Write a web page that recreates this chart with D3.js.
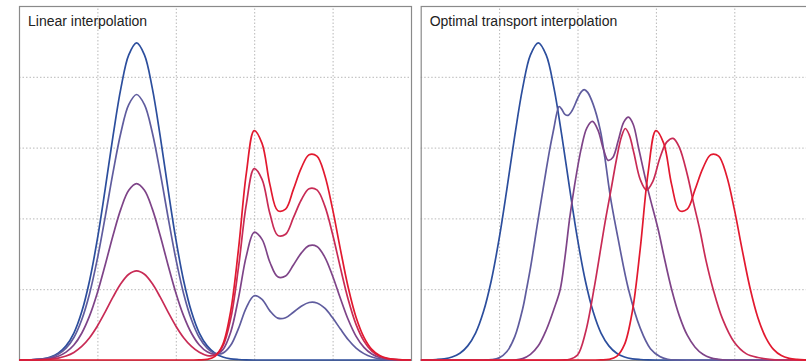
<!DOCTYPE html>
<html>
<head>
<meta charset="utf-8">
<script src="https://cdn.jsdelivr.net/npm/d3@7"></script>
<style>
  body { margin: 0; background: #fff; }
  svg { display: block; }
</style>
</head>
<body>
<div id="chart"></div>
<script>
// sample positions along x (grid units, 5 cells per panel)
var xs = [0,0.1,0.2,0.3,0.4,0.5,0.6,0.7,0.8,0.9,1,1.1,1.2,1.3,1.4,1.5,1.6,1.7,1.8,1.9,2,
  2.1,2.2,2.3,2.4,2.5,2.6,2.7,2.8,2.9,3,3.1,3.2,3.3,3.4,3.5,3.6,3.7,3.8,3.9,4,
  4.1,4.2,4.3,4.4,4.5,4.6,4.7,4.8,4.9,5];

// start density (blue, single bump)
var startDensity = [0,0.002,0.007,0.017,0.042,0.095,0.2,0.38,0.68,1.12,1.71,2.42,3.17,3.84,4.31,4.48,4.31,3.84,3.17,2.42,1.71,
  1.12,0.68,0.38,0.2,0.095,0.042,0.017,0.007,0.002,0,0,0,0,0,0,0,0,0,0,0,
  0,0,0,0,0,0,0,0,0,0];

// end density (red, two bumps)
var endDensity = [0,0,0,0,0,0,0,0,0,0,0,0,0,0,0,0,0,0,0,0,0,
  0,0,0.001,0.008,0.051,0.22,0.69,1.57,2.64,3.24,3.06,2.48,2.11,2.13,2.41,2.71,2.9,2.88,2.61,2.13,
  1.56,1.02,0.6,0.32,0.15,0.062,0.023,0.008,0.002,0];

// linear interpolation, intermediate curves
var linearQ1 = [0,0.002,0.006,0.014,0.035,0.08,0.167,0.318,0.569,0.937,1.431,2.026,2.653,3.214,3.607,3.75,3.607,3.214,2.653,2.026,1.431,
  0.937,0.569,0.318,0.169,0.094,0.097,0.207,0.446,0.741,0.907,0.857,0.694,0.591,0.596,0.675,0.759,0.812,0.806,0.731,0.596,
  0.437,0.286,0.168,0.09,0.042,0.017,0.006,0.002,0.001,0];
var linearMid = [0,0.001,0.004,0.009,0.023,0.053,0.111,0.211,0.378,0.623,0.951,1.346,1.763,2.135,2.396,2.491,2.396,2.135,1.763,1.346,0.951,
  0.623,0.378,0.212,0.115,0.081,0.146,0.393,0.878,1.471,1.805,1.704,1.381,1.175,1.186,1.342,1.509,1.615,1.604,1.454,1.186,
  0.869,0.568,0.334,0.178,0.084,0.035,0.013,0.004,0.001,0];
var linearQ3 = [0,0.001,0.002,0.005,0.012,0.027,0.056,0.107,0.191,0.315,0.481,0.68,0.891,1.079,1.211,1.259,1.211,1.079,0.891,0.68,0.481,
  0.315,0.191,0.108,0.063,0.07,0.195,0.58,1.311,2.203,2.702,2.552,2.068,1.76,1.776,2.01,2.26,2.419,2.402,2.177,1.776,
  1.301,0.851,0.5,0.267,0.125,0.052,0.019,0.007,0.002,0];

// optimal transport, intermediate curves as [x, y] points
var transportQ1 = [[0,0],[0.8,0],[0.9,0.005],[1,0.03],[1.1,0.12],[1.2,0.33],[1.3,0.72],[1.35,1],[1.4,1.3],[1.5,2],[1.6,2.68],
  [1.65,3],[1.7,3.28],[1.735,3.48],[1.765,3.58],[1.8,3.54],[1.84,3.47],[1.88,3.455],[1.93,3.52],[2,3.69],[2.05,3.79],
  [2.085,3.82],[2.13,3.78],[2.2,3.61],[2.29,3.25],[2.35,2.85],[2.42,2.3],[2.52,1.7],[2.65,1],[2.8,0.45],[2.93,0.16],
  [3.05,0.05],[3.15,0.01],[3.3,0],[5,0]];
var transportMid = [[0,0],[1.2,0],[1.3,0.02],[1.4,0.08],[1.5,0.2],[1.6,0.42],[1.7,0.72],[1.78,1],[1.84,1.45],[1.9,2],
  [1.96,2.45],[2.05,3],[2.12,3.28],[2.19,3.37],[2.26,3.25],[2.33,2.98],[2.39,2.82],[2.45,2.86],[2.52,3.1],[2.59,3.36],
  [2.65,3.43],[2.71,3.33],[2.78,2.99],[2.9,2.4],[3.03,1.84],[3.1,1.48],[3.2,1],[3.3,0.62],[3.4,0.35],[3.5,0.18],
  [3.6,0.08],[3.7,0.03],[3.8,0.01],[3.9,0],[5,0]];
var transportQ3 = [[0,0],[1.8,0],[1.9,0.01],[2,0.07],[2.1,0.38],[2.21,1],[2.3,1.6],[2.36,2],[2.43,2.42],[2.5,2.85],
  [2.56,3.15],[2.61,3.27],[2.66,3.18],[2.72,2.92],[2.8,2.55],[2.88,2.4],[2.96,2.52],[3.05,2.85],[3.14,3.08],[3.22,3.13],
  [3.3,3],[3.4,2.62],[3.48,2.22],[3.56,1.84],[3.64,1.4],[3.73,1],[3.85,0.58],[4,0.25],[4.15,0.09],[4.3,0.035],
  [4.45,0.01],[4.6,0],[5,0]];

var colors = ["#2c4e9d", "#5f5c9e", "#7e4488", "#c82b55", "#e2192f"];
var titles = ["Linear interpolation", "Optimal transport interpolation"];

function onGrid(values) {
  return xs.map(function(x, i) { return [x, values[i]]; });
}

var panelSeries = [
  [onGrid(startDensity), onGrid(linearQ1), onGrid(linearMid), onGrid(linearQ3), onGrid(endDensity)],
  [onGrid(startDensity), transportQ1, transportMid, transportQ3, onGrid(endDensity)]
];

var width = 806, height = 361;
var panelLeft = [19, 420.7],
  panelWidth = 392,
  plotTop = 6,
  plotBottom = 360;

var svg = d3.select("#chart")
.append("svg")
  .attr("width", width)
  .attr("height", height);

var y = d3.scaleLinear().domain([0, 5]).range([plotBottom, plotTop]);

panelSeries.forEach(function(series, p) {
  var x = d3.scaleLinear().domain([0, 5]).range([panelLeft[p], panelLeft[p] + panelWidth]);
  var g = svg.append("g");

  g.append("clipPath").attr("id", "clip" + p)
    .append("rect")
    .attr("x", panelLeft[p]).attr("y", plotTop)
    .attr("width", panelWidth).attr("height", plotBottom - plotTop + 1);

  // 縦のグリッド
  g.append("g")
    .attr("class", "grid")
    .attr("transform", "translate(0," + plotBottom + ")")
    .call(d3.axisBottom(x).tickValues([1, 2, 3, 4]).tickSize(-(plotBottom - plotTop)).tickFormat(""));
  // 横のグリッド
  g.append("g")
    .attr("class", "grid")
    .attr("transform", "translate(" + panelLeft[p] + ",0)")
    .call(d3.axisLeft(y).tickValues([1, 2, 3, 4]).tickSize(-panelWidth).tickFormat(""));

  g.selectAll(".grid .domain").remove();
  g.selectAll(".grid line")
    .attr("stroke", "#b8b8b8")
    .attr("stroke-width", 1)
    .attr("stroke-dasharray", "1.5,2");

  g.append("rect")
    .attr("x", panelLeft[p] + 0.5).attr("y", plotTop + 0.5)
    .attr("width", panelWidth).attr("height", plotBottom - plotTop)
    .attr("fill", "none")
    .attr("stroke", "#8a8a8a")
    .attr("stroke-width", 1.2);

  var line = d3.line()
    .x(function(d) { return x(d[0]); })
    .y(function(d) { return y(d[1]); })
    .curve(d3.curveCatmullRom.alpha(0.5));

  g.append("g")
    .attr("clip-path", "url(#clip" + p + ")")
    .selectAll("path")
    .data(series)
    .join("path")
      .attr("d", line)
      .attr("fill", "none")
      .attr("stroke", function(d, i) { return colors[i]; })
      .attr("stroke-width", 1.7)
      .attr("stroke-linejoin", "round");

  g.append("text")
    .attr("x", panelLeft[p] + 9)
    .attr("y", 26)
    .attr("font-family", "'Liberation Sans', Arial, sans-serif")
    .attr("font-size", 14)
    .attr("fill", "#222")
    .text(titles[p]);
});
</script>
</body>
</html>
